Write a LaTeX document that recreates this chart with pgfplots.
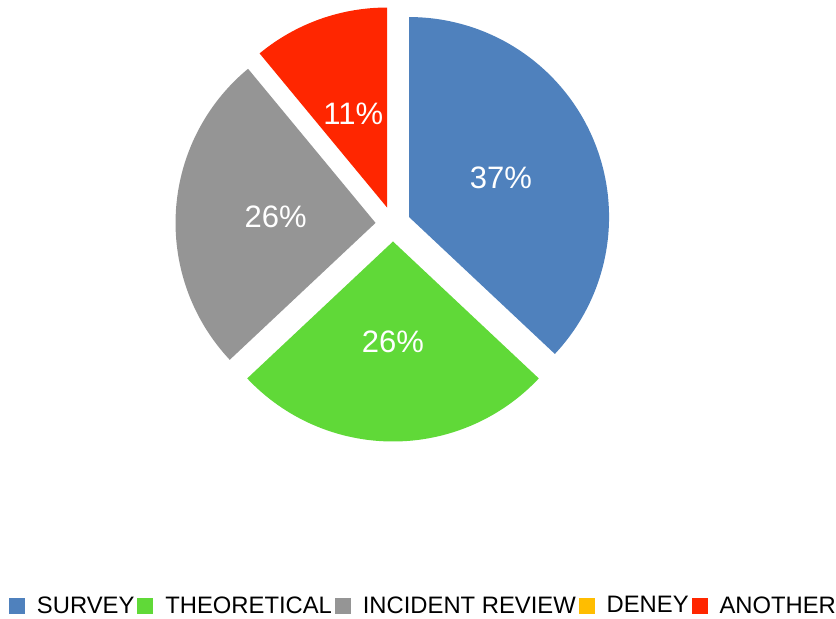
\documentclass[border=0pt]{standalone}
\usepackage{fontspec}
\setmainfont{Liberation Sans}
\usepackage{pgfplots}
\pgfplotsset{compat=1.18}
\definecolor{cS}{RGB}{79,129,189}
\definecolor{cT}{RGB}{96,217,56}
\definecolor{cI}{RGB}{149,149,149}
\definecolor{cD}{RGB}{255,189,0}
\definecolor{cA}{RGB}{255,38,0}
\begin{document}
\begin{tikzpicture}
% shares in percent
\def\pS{37}\def\pT{26}\def\pI{26}\def\pD{0}\def\pA{11}
\def\R{200}\def\off{17.5}\def\lab{117.5}
\pgfmathsetmacro\aO{90}
\pgfmathsetmacro\aS{\aO-3.6*\pS}
\pgfmathsetmacro\aT{\aS-3.6*\pT}
\pgfmathsetmacro\aI{\aT-3.6*\pI}
\pgfmathsetmacro\aD{\aI-3.6*\pD}
\pgfmathsetmacro\aA{\aD-3.6*\pA}
\pgfmathsetmacro\mS{(\aO+\aS)/2}
\pgfmathsetmacro\mT{(\aS+\aT)/2}
\pgfmathsetmacro\mI{(\aT+\aI)/2}
\pgfmathsetmacro\mA{(\aD+\aA)/2}
\pgfmathsetmacro\xS{\lab*cos(\mS)}\pgfmathsetmacro\yS{\lab*sin(\mS)}
\pgfmathsetmacro\xT{\lab*cos(\mT)}\pgfmathsetmacro\yT{\lab*sin(\mT)}
\pgfmathsetmacro\xI{\lab*cos(\mI)}\pgfmathsetmacro\yI{\lab*sin(\mI)}
\pgfmathsetmacro\xA{\lab*cos(\mA)}\pgfmathsetmacro\yA{\lab*sin(\mA)}
\useasboundingbox (0,0) rectangle (836bp,619bp);
\begin{axis}[
  at={(0,0)}, anchor=south west,
  scale only axis, width=836bp, height=619bp,
  xmin=-393, xmax=443, ymin=-395, ymax=224,
  hide axis, clip=false,
  legend columns=5,
  legend image code/.code={\fill[#1] (0bp,-7.5bp) rectangle (15bp,7.5bp);},
  legend style={draw=none, fill=none, at={(axis cs:29.5,-381.5)}, anchor=center,
    font=\fontsize{23.8bp}{28bp}\selectfont, inner sep=0pt,
    nodes={inner sep=0pt},
    /tikz/every odd column/.append style={column sep=12.5bp},
    /tikz/every even column/.append style={column sep=3bp}},
  lbl/.style={draw=none, mark=none, nodes near coords, point meta=explicit symbolic,
    nodes near coords style={anchor=center, text=white, inner sep=0pt,
      font=\fontsize{31bp}{31bp}\selectfont}},
]
\addplot[forget plot, fill=cS, draw=none, domain=\aS:\aO, samples=120, variable=\t, shift={(\mS:\off bp)}]
  ({\R*cos(\t)},{\R*sin(\t)}) -- (axis cs:0,0) -- cycle;
\addplot[forget plot, fill=cT, draw=none, domain=\aT:\aS, samples=100, variable=\t, shift={(\mT:\off bp)}]
  ({\R*cos(\t)},{\R*sin(\t)}) -- (axis cs:0,0) -- cycle;
\addplot[forget plot, fill=cI, draw=none, domain=\aI:\aT, samples=100, variable=\t, shift={(\mI:\off bp)}]
  ({\R*cos(\t)},{\R*sin(\t)}) -- (axis cs:0,0) -- cycle;
\addplot[forget plot, fill=cA, draw=none, domain=\aA:\aD, samples=60, variable=\t, shift={(\mA:\off bp)}]
  ({\R*cos(\t)},{\R*sin(\t)}) -- (axis cs:0,0) -- cycle;
\addplot[forget plot, lbl] coordinates {(\xS,\yS) [\pS\%]};
\addplot[forget plot, lbl] coordinates {(\xT,\yT) [\pT\%]};
\addplot[forget plot, lbl] coordinates {(\xI,\yI) [\pI\%]};
\addplot[forget plot, lbl] coordinates {(\xA,\yA) [\pA\%]};
\addlegendimage{cS}\addlegendentry{SURVEY}
\addlegendimage{cT}\addlegendentry{THEORETICAL}
\addlegendimage{cI}\addlegendentry{INCIDENT REVIEW}
\addlegendimage{cD}\addlegendentry{DENEY}
\addlegendimage{cA}\addlegendentry{ANOTHER}
\end{axis}
\end{tikzpicture}
\end{document}
